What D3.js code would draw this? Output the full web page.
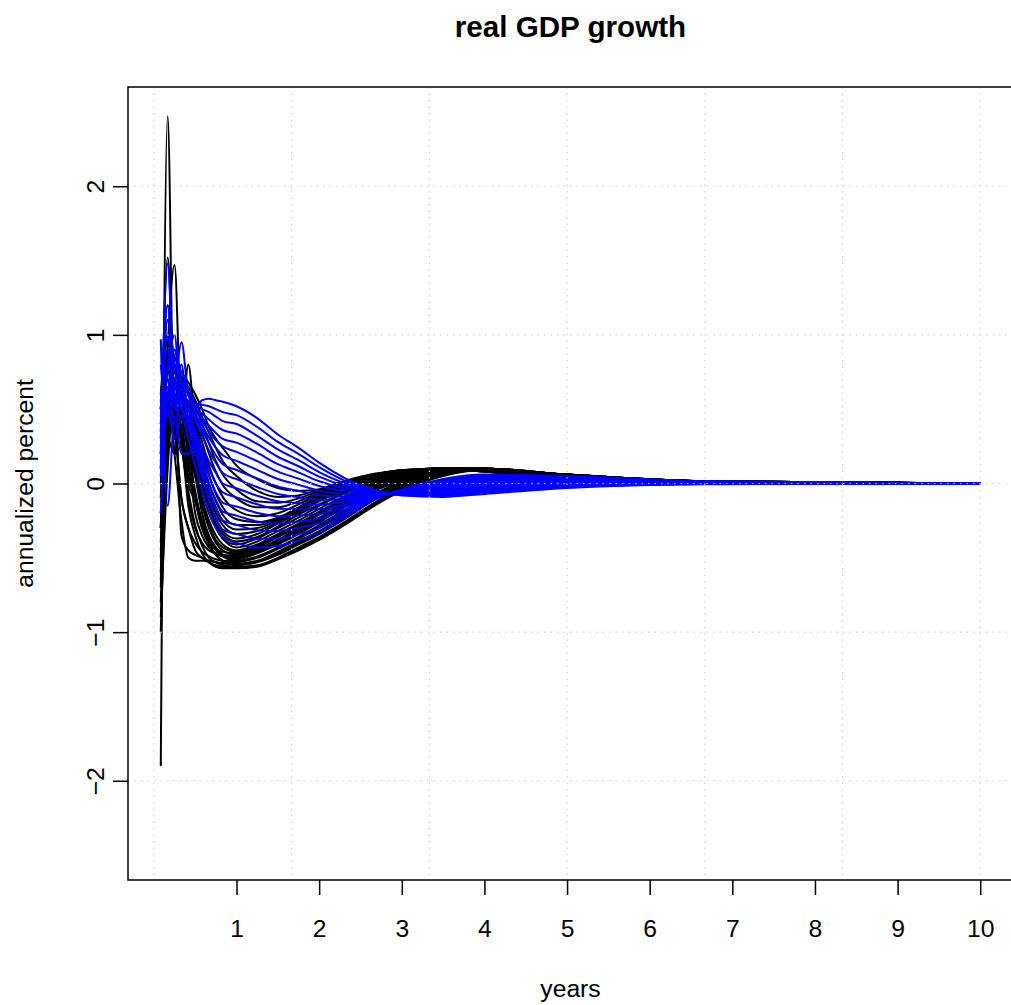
<!DOCTYPE html>
<html>
<head>
<meta charset="utf-8">
<script src="https://cdn.jsdelivr.net/npm/d3@7"></script>
<style>
  body { margin: 0; background: #fff; }
  svg { display: block; }
  text { font-family: "Liberation Sans", Arial, Helvetica, sans-serif; fill: #000; }
</style>
</head>
<body>
<svg id="chart" width="1011" height="1005"></svg>
<script>
// Horizon (months after the shock) at which each response value is recorded
const months = [1, 2, 3, 4, 5, 6, 7, 8, 9, 10, 12, 15, 18, 21, 24, 28, 32, 36, 42, 48, 60, 80, 120];

// Responses of real GDP growth (annualized percent), first set of draws
const blackLines = [
  [-1.0, 0.2, 0.45, 0.3, -0.15, -0.35, -0.47, -0.53, -0.56, -0.57, -0.57, -0.56, -0.51, -0.45, -0.38, -0.27, -0.15, -0.05, 0.05, 0.09, 0.06, 0.015, 0],
  [-0.3, 0.45, 0.35, -0.1, -0.3, -0.45, -0.5, -0.53, -0.55, -0.56, -0.565, -0.555, -0.505, -0.44, -0.37, -0.26, -0.14, -0.04, 0.055, 0.092, 0.06, 0.015, 0],
  [-0.8, 0.35, 0.55, 0.25, -0.05, -0.28, -0.42, -0.5, -0.53, -0.55, -0.56, -0.55, -0.50, -0.43, -0.36, -0.25, -0.13, -0.03, 0.06, 0.095, 0.06, 0.015, 0],
  [-0.6, 0.5, 0.3, 0.4, 0.0, -0.12, -0.3, -0.41, -0.48, -0.52, -0.55, -0.53, -0.48, -0.41, -0.34, -0.23, -0.11, -0.02, 0.07, 0.10, 0.06, 0.015, 0],
  [-0.65, 0.3, 0.5, 0.45, 0.2, -0.05, -0.28, -0.4, -0.48, -0.52, -0.545, -0.525, -0.47, -0.40, -0.33, -0.22, -0.105, -0.015, 0.072, 0.10, 0.06, 0.015, 0],
  [-0.9, 0.1, 0.6, -0.35, -0.45, -0.48, -0.5, -0.52, -0.53, -0.54, -0.54, -0.52, -0.46, -0.39, -0.32, -0.21, -0.10, -0.01, 0.075, 0.10, 0.06, 0.015, 0],
  [-0.4, 0.6, 0.2, -0.25, -0.5, -0.52, -0.52, -0.52, -0.53, -0.535, -0.53, -0.50, -0.44, -0.37, -0.30, -0.19, -0.08, 0.0, 0.08, 0.10, 0.06, 0.015, 0],
  [0.1, 0.55, 0.4, -0.1, -0.3, -0.4, -0.46, -0.49, -0.51, -0.52, -0.525, -0.495, -0.435, -0.365, -0.29, -0.18, -0.075, 0.005, 0.082, 0.10, 0.058, 0.015, 0],
  [-0.3, 0.7, 0.4, 0.3, 0.1, -0.08, -0.25, -0.38, -0.45, -0.49, -0.52, -0.49, -0.43, -0.36, -0.28, -0.17, -0.07, 0.01, 0.085, 0.10, 0.055, 0.015, 0],
  [-1.9, 2.47, 0.2, 0.25, 0.05, -0.1, -0.25, -0.36, -0.44, -0.48, -0.51, -0.47, -0.41, -0.34, -0.26, -0.15, -0.05, 0.02, 0.09, 0.10, 0.055, 0.015, 0],
  [-0.45, 0.25, 0.5, 0.5, 0.25, 0.05, -0.2, -0.35, -0.43, -0.48, -0.505, -0.465, -0.405, -0.33, -0.255, -0.145, -0.045, 0.025, 0.09, 0.10, 0.052, 0.013, 0],
  [-0.2, 0.4, 0.7, 0.35, 0.15, -0.2, -0.35, -0.43, -0.47, -0.49, -0.50, -0.46, -0.40, -0.32, -0.25, -0.14, -0.04, 0.03, 0.09, 0.10, 0.05, 0.012, 0],
  [0.25, 0.65, 0.45, 0.3, -0.1, -0.3, -0.4, -0.45, -0.47, -0.48, -0.49, -0.45, -0.39, -0.31, -0.24, -0.13, -0.035, 0.032, 0.092, 0.10, 0.05, 0.012, 0],
  [0.0, 0.8, 0.3, 0.5, 0.2, 0.05, -0.15, -0.3, -0.4, -0.45, -0.48, -0.44, -0.38, -0.30, -0.23, -0.12, -0.03, 0.035, 0.095, 0.10, 0.05, 0.012, 0],
  [-0.5, 0.3, 0.2, 0.6, 0.3, -0.1, -0.3, -0.4, -0.44, -0.46, -0.47, -0.43, -0.36, -0.29, -0.21, -0.11, -0.02, 0.04, 0.095, 0.10, 0.05, 0.012, 0],
  [-0.1, 0.9, 0.55, 0.45, 0.3, 0.1, -0.12, -0.28, -0.38, -0.43, -0.46, -0.42, -0.35, -0.28, -0.20, -0.10, -0.015, 0.045, 0.097, 0.10, 0.05, 0.012, 0],
  [0.1, 1.52, 0.6, 0.5, 0.25, 0.1, -0.1, -0.25, -0.35, -0.41, -0.45, -0.41, -0.34, -0.27, -0.19, -0.09, -0.01, 0.05, 0.10, 0.10, 0.05, 0.012, 0],
  [0.2, 0.6, 0.5, 0.4, 0.8, 0.35, 0.1, -0.12, -0.28, -0.37, -0.43, -0.39, -0.32, -0.25, -0.17, -0.08, 0.0, 0.055, 0.10, 0.10, 0.045, 0.01, 0],
  [-0.7, 0.45, 0.65, 0.45, 0.3, 0.15, -0.05, -0.2, -0.3, -0.37, -0.41, -0.37, -0.30, -0.23, -0.15, -0.06, 0.01, 0.06, 0.10, 0.10, 0.045, 0.01, 0],
  [0.3, 0.9, 0.5, 0.3, 0.4, 0.2, 0.0, -0.16, -0.27, -0.34, -0.39, -0.36, -0.29, -0.21, -0.14, -0.05, 0.02, 0.065, 0.105, 0.10, 0.045, 0.01, 0],
  [0.05, 0.5, 0.8, 0.6, 0.35, 0.2, 0.03, -0.12, -0.24, -0.32, -0.37, -0.34, -0.27, -0.20, -0.12, -0.04, 0.03, 0.07, 0.105, 0.095, 0.04, 0.01, 0],
  [0.4, 0.7, 0.6, 0.5, 0.45, 0.25, 0.08, -0.08, -0.2, -0.28, -0.34, -0.32, -0.26, -0.19, -0.11, -0.03, 0.035, 0.075, 0.105, 0.095, 0.04, 0.01, 0],
  [-0.3, 0.9, 1.47, 0.45, 0.45, 0.3, 0.12, -0.04, -0.16, -0.25, -0.31, -0.30, -0.25, -0.18, -0.10, -0.02, 0.04, 0.08, 0.105, 0.09, 0.04, 0.01, 0],
  [0.5, 1.0, 0.6, 0.55, 0.5, 0.35, 0.16, 0.0, -0.12, -0.21, -0.28, -0.28, -0.24, -0.17, -0.09, -0.01, 0.045, 0.08, 0.10, 0.09, 0.04, 0.01, 0],
  [0.2, 0.75, 0.7, 0.6, 0.5, 0.4, 0.22, 0.06, -0.07, -0.16, -0.24, -0.26, -0.23, -0.16, -0.08, 0.0, 0.05, 0.085, 0.10, 0.09, 0.04, 0.01, 0],
  [0.35, 1.1, 0.65, 0.6, 0.55, 0.42, 0.28, 0.12, 0.0, -0.09, -0.18, -0.22, -0.20, -0.14, -0.07, 0.005, 0.055, 0.085, 0.10, 0.085, 0.035, 0.01, 0],
  [0.45, 0.85, 0.75, 0.65, 0.6, 0.48, 0.34, 0.2, 0.08, -0.01, -0.10, -0.16, -0.16, -0.12, -0.06, 0.01, 0.06, 0.09, 0.10, 0.085, 0.035, 0.01, 0],
  [0.5, 1.2, 0.8, 0.7, 0.62, 0.52, 0.4, 0.27, 0.15, 0.06, -0.04, -0.12, -0.13, -0.10, -0.05, 0.015, 0.06, 0.09, 0.10, 0.08, 0.035, 0.01, 0],
  [0.55, 0.95, 0.8, 0.72, 0.65, 0.56, 0.45, 0.34, 0.24, 0.15, 0.05, -0.05, -0.09, -0.08, -0.04, 0.02, 0.065, 0.09, 0.10, 0.08, 0.03, 0.008, 0],
  [0.6, 1.0, 0.85, 0.75, 0.68, 0.6, 0.5, 0.38, 0.3, 0.24, 0.12, 0.03, -0.03, -0.05, -0.04, 0.01, 0.06, 0.09, 0.10, 0.08, 0.03, 0.008, 0]
];

// Responses of real GDP growth (annualized percent), second set of draws
const blueLines = [
  [0.5, 0.9, 0.7, 0.95, 0.6, 0.5, 0.56, 0.57, 0.56, 0.55, 0.52, 0.44, 0.33, 0.24, 0.14, 0.03, -0.04, -0.08, -0.09, -0.07, -0.03, -0.005, 0],
  [0.3, 1.1, 0.8, 0.6, 0.65, 0.54, 0.53, 0.52, 0.5, 0.48, 0.46, 0.38, 0.28, 0.20, 0.11, 0.013, -0.045, -0.077, -0.082, -0.061, -0.025, -0.004, 0],
  [0.6, 0.6, 0.9, 0.7, 0.5, 0.52, 0.5, 0.48, 0.45, 0.42, 0.40, 0.32, 0.23, 0.157, 0.077, -0.003, -0.049, -0.075, -0.074, -0.053, -0.019, -0.002, 0],
  [0.2, 1.48, 0.6, 0.55, 0.6, 0.5, 0.47, 0.43, 0.39, 0.36, 0.336, 0.266, 0.18, 0.116, 0.046, -0.02, -0.054, -0.072, -0.066, -0.044, -0.014, -0.001, 0],
  [0.6, 0.8, 1.0, 0.5, 0.55, 0.48, 0.44, 0.39, 0.34, 0.3, 0.275, 0.208, 0.13, 0.075, 0.015, -0.037, -0.059, -0.069, -0.058, -0.035, -0.009, 0, 0],
  [0.1, 0.7, 0.5, 0.8, 0.45, 0.5, 0.42, 0.35, 0.29, 0.25, 0.213, 0.15, 0.08, 0.033, -0.017, -0.053, -0.063, -0.067, -0.05, -0.027, -0.003, 0.002, 0],
  [0.8, 0.5, 0.65, 0.6, 0.5, 0.46, 0.39, 0.31, 0.24, 0.19, 0.152, 0.092, 0.03, -0.008, -0.048, -0.07, -0.068, -0.064, -0.042, -0.018, 0.002, 0.003, 0],
  [0.4, 1.2, 0.55, 0.45, 0.5, 0.44, 0.36, 0.27, 0.19, 0.13, 0.091, 0.034, -0.02, -0.049, -0.079, -0.087, -0.073, -0.061, -0.034, -0.009, 0.007, 0.004, 0],
  [0.15, 0.6, 0.8, 0.65, 0.52, 0.42, 0.32, 0.22, 0.14, 0.07, 0.029, -0.024, -0.07, -0.091, -0.111, -0.103, -0.077, -0.059, -0.026, 0.0, 0.013, 0.006, 0],
  [0.97, -0.15, 0.45, 0.2, 0.2, 0.28, 0.24, 0.15, 0.07, 0.0, -0.032, -0.082, -0.12, -0.132, -0.142, -0.12, -0.082, -0.056, -0.018, 0.008, 0.018, 0.007, 0],
  [0.25, 0.55, 0.7, 0.5, 0.45, 0.36, 0.23, 0.1, 0.0, -0.06, -0.093, -0.14, -0.17, -0.173, -0.173, -0.137, -0.087, -0.053, -0.01, 0.017, 0.023, 0.008, 0],
  [0.5, 1.0, 0.6, 0.58, 0.5, 0.33, 0.18, 0.05, -0.06, -0.13, -0.155, -0.198, -0.22, -0.215, -0.205, -0.153, -0.091, -0.051, -0.002, 0.025, 0.029, 0.01, 0],
  [0.05, 0.65, 0.4, 0.6, 0.45, 0.3, 0.14, 0.0, -0.11, -0.19, -0.216, -0.256, -0.27, -0.256, -0.236, -0.17, -0.096, -0.048, 0.006, 0.034, 0.034, 0.011, 0],
  [0.35, 0.75, 0.9, 0.55, 0.42, 0.27, 0.1, -0.05, -0.17, -0.25, -0.277, -0.314, -0.32, -0.297, -0.267, -0.187, -0.101, -0.045, 0.014, 0.043, 0.039, 0.012, 0],
  [0.6, 0.45, 0.6, 0.5, 0.38, 0.22, 0.04, -0.11, -0.23, -0.31, -0.339, -0.372, -0.37, -0.339, -0.299, -0.203, -0.105, -0.043, 0.022, 0.051, 0.045, 0.014, 0],
  [-0.2, 0.5, 0.3, 0.45, 0.3, 0.12, -0.05, -0.2, -0.3, -0.36, -0.40, -0.43, -0.42, -0.38, -0.33, -0.22, -0.11, -0.04, 0.03, 0.06, 0.05, 0.015, 0]
];

// Axis ticks: years on the horizontal axis, percent on the vertical axis
const yearTicks = [1, 2, 3, 4, 5, 6, 7, 8, 9, 10];
const valueTicks = [-2, -1, 0, 1, 2];
// Reference grid positions (months and percent)
const gridMonths = [0, 20, 40, 60, 80, 100, 120];
const gridValues = [-2, -1, 0, 1, 2];

const svg = d3.select("#chart");
const W = 1011, H = 1005;
const plot = { left: 128, right: 1013, top: 87, bottom: 880 };

// Axis limits: data range padded by 4% on each side
const xPad = (d3.max(months) - d3.min(months)) * 0.04;
const allValues = blackLines.flat().concat(blueLines.flat());
const yMax = d3.max(allValues, v => Math.abs(v));
const x = d3.scaleLinear()
  .domain([d3.min(months) - xPad, d3.max(months) + xPad])
  .range([plot.left, plot.right]);
const y = d3.scaleLinear()
  .domain([-yMax * 1.08, yMax * 1.08])
  .range([plot.bottom, plot.top]);

svg.append("rect").attr("width", W).attr("height", H).attr("fill", "#fff");

svg.append("defs").append("clipPath").attr("id", "plotClip")
  .append("rect")
  .attr("x", plot.left).attr("y", plot.top)
  .attr("width", plot.right - plot.left).attr("height", plot.bottom - plot.top);

const line = d3.line()
  .x((d, i) => x(months[i]))
  .y(d => y(d))
  .curve(d3.curveMonotoneX);

const lines = svg.append("g").attr("clip-path", "url(#plotClip)");

lines.selectAll("path.black")
  .data(blackLines)
  .join("path")
  .attr("class", "black")
  .attr("d", line)
  .attr("fill", "none")
  .attr("stroke", "#000")
  .attr("stroke-width", 2)
  .attr("stroke-linejoin", "round");

lines.selectAll("path.blue")
  .data(blueLines)
  .join("path")
  .attr("class", "blue")
  .attr("d", line)
  .attr("fill", "none")
  .attr("stroke", "#0000ff")
  .attr("stroke-width", 2)
  .attr("stroke-linejoin", "round");

// Dotted light-grey grid, drawn over the curves
const grid = svg.append("g").attr("clip-path", "url(#plotClip)")
  .attr("stroke", "#d3d3d3").attr("stroke-width", 1.2)
  .attr("stroke-dasharray", "1.5,5");
grid.selectAll("line.v").data(gridMonths).join("line")
  .attr("class", "v")
  .attr("x1", d => x(d)).attr("x2", d => x(d))
  .attr("y1", plot.top).attr("y2", plot.bottom);
grid.selectAll("line.h").data(gridValues).join("line")
  .attr("class", "h")
  .attr("x1", plot.left).attr("x2", plot.right)
  .attr("y1", d => y(d)).attr("y2", d => y(d));

// Plot frame
svg.append("rect")
  .attr("x", plot.left).attr("y", plot.top)
  .attr("width", plot.right - plot.left).attr("height", plot.bottom - plot.top)
  .attr("fill", "none").attr("stroke", "#000").attr("stroke-width", 1.5);

// Bottom axis: ticks every 12 months, labelled in years
const xAxis = d3.axisBottom(x)
  .tickValues(yearTicks.map(t => t * 12))
  .tickFormat(d => String(d / 12))
  .tickSize(15);
const gx = svg.append("g").attr("transform", `translate(0,${plot.bottom})`).call(xAxis);
gx.select(".domain").remove();
gx.selectAll(".tick line").attr("stroke", "#000").attr("stroke-width", 1.5);
gx.selectAll(".tick text")
  .attr("y", 57).attr("dy", null)
  .attr("font-size", "24.7px")
  .attr("font-family", "Liberation Sans, Arial, sans-serif")
  .attr("fill", "#000");

// Left axis with labels rotated parallel to the axis
const yAxis = d3.axisLeft(y).tickValues(valueTicks).tickFormat(d3.format("d")).tickSize(15);
const gy = svg.append("g").attr("transform", `translate(${plot.left},0)`).call(yAxis);
gy.select(".domain").remove();
gy.selectAll(".tick line").attr("stroke", "#000").attr("stroke-width", 1.5);
gy.selectAll(".tick text")
  .attr("x", null).attr("dy", null)
  .attr("text-anchor", "middle")
  .attr("transform", "translate(-24,0) rotate(-90)")
  .attr("font-size", "24.7px")
  .attr("font-family", "Liberation Sans, Arial, sans-serif")
  .attr("fill", "#000");

// Titles
const midX = (plot.left + plot.right) / 2;
const midY = (plot.top + plot.bottom) / 2;
svg.append("text")
  .attr("x", midX).attr("y", 37)
  .attr("text-anchor", "middle")
  .attr("font-size", "29.6px").attr("font-weight", "bold")
  .text("real GDP growth");
svg.append("text")
  .attr("x", midX).attr("y", 997)
  .attr("text-anchor", "middle")
  .attr("font-size", "24.7px")
  .text("years");
svg.append("text")
  .attr("transform", `translate(33,${midY}) rotate(-90)`)
  .attr("text-anchor", "middle")
  .attr("font-size", "24.7px")
  .text("annualized percent");
</script>
</body>
</html>
